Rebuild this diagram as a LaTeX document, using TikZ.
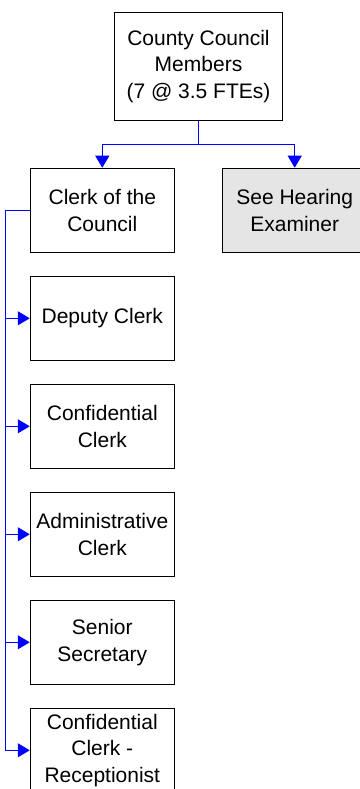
\documentclass[tikz,border=0pt]{standalone}
\usepackage{fontspec}
\setmainfont{Liberation Sans}
\usepackage{tikz}
\usetikzlibrary{positioning,arrows.meta}

\begin{document}
\begin{tikzpicture}[x=1pt, y=1pt,
  box/.style = {draw = black, line width = 1.1pt, shape = rectangle, minimum width = 144pt, minimum height = 84pt, inner sep = 0pt, align = center, font = \fontsize{21}{26.7}\selectfont},
  link/.style = {draw = blue, line width = 1pt},
  tip/.style = {link, -{Triangle[length = 12pt, width = 14pt]}},
  node distance = 22.9pt]
\useasboundingbox (0,0) rectangle (359,789);
\node[box, minimum width = 168pt, minimum height = 108pt] (10) at (198.5,722.5) {County Council\\Members\\(7 @ 3.5 FTEs)};
\node[box] (11) at (102.3,578.7) {Clerk of the\\Council};
\node[box, fill = black!10] (12) at (294.7,578.7) {See Hearing\\Examiner};
\node[box, below = of 11] (20) {Deputy Clerk};
\node[box, below = of 20] (21) {Confidential\\Clerk};
\node[box, below = of 21] (22) {Administrative\\Clerk};
\node[box, below = of 22] (23) {Senior\\Secretary};
\node[box, below = of 23] (24) {Confidential\\Clerk -\\Receptionist};
% top level
\draw[link] (10.south) -- ++(0,-23.3) coordinate (bus);
\draw[tip] (bus) -| (11.north);
\draw[tip] (bus) -| (12.north);
% staff under the clerk
\draw[link] (11.west) -- ++(-24.3,0) coordinate (rail) -- (rail |- 24.west);
\foreach \n in {20,21,22,23,24}
  \draw[tip] (rail |- \n.west) -- (\n.west);
\end{tikzpicture}
\end{document}
